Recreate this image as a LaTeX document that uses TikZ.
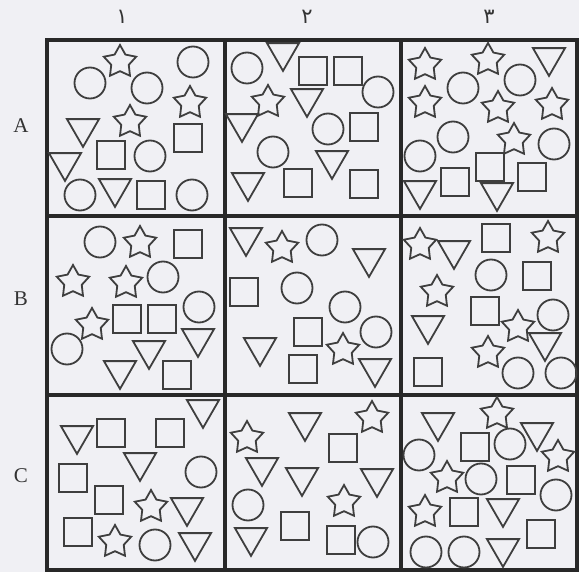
\documentclass[tikz,border=0pt]{standalone}
\usepackage{fontspec}
\setmainfont{Liberation Serif}
\newfontfamily\arabicfont[Script=Arabic]{DejaVu Sans}
\TeXXeTstate=1
\usetikzlibrary{shapes.geometric}
\definecolor{paper}{RGB}{240,240,244}
\definecolor{ink}{RGB}{62,62,62}
\definecolor{gridink}{RGB}{40,40,40}

\begin{document}
\begin{tikzpicture}[x=0.5pt, y=-0.5pt,
  shp/.style={draw=ink, line width=0.9pt, inner sep=0pt},
  circ/.style={shp, circle, minimum size=15.5pt},
  sqr/.style={shp, rectangle, minimum size=13.8pt},
  tri/.style={shp, regular polygon, regular polygon sides=3, shape border rotate=180, minimum size=18.5pt, yshift=2.3pt},
  pent/.style={shp, star, star points=5, star point ratio=1.85, minimum size=17pt},
  lbl/.style={font=\fontsize{10.5}{12}\selectfont, text=black!80}]
  \fill[paper] (0,0) rectangle (579,572);
  \useasboundingbox (0,0) rectangle (579,572);

  % headers
  \node[lbl] (col1) at (122,17) {\arabicfont\beginR ١\endR};
  \node[lbl] (col2) at (307,17) {\arabicfont\beginR ٢\endR};
  \node[lbl] (col3) at (489,17) {\arabicfont\beginR ٣\endR};
  \node[lbl] (rowA) at (21,126) {A};
  \node[lbl] (rowB) at (21,299) {B};
  \node[lbl] (rowC) at (21,476) {C};

  % grid
  \draw[gridink, line width=1.6pt] (47,40) rectangle (577,570);
  \draw[gridink, line width=1.6pt] (225,40) -- (225,570);
  \draw[gridink, line width=1.6pt] (401,40) -- (401,570);
  \draw[gridink, line width=1.6pt] (47,216) -- (577,216);
  \draw[gridink, line width=1.6pt] (47,395) -- (577,395);

  % circles
  \foreach \px/\py [count=\i] in {193/62, 90/83, 147/88, 150/156, 80/195, 192/195,
      247/68, 378/92, 328/129, 273/152,
      520/80, 463/88, 453/137, 554/144, 420/156,
      100/242, 163/277, 199/307, 67/349,
      322/240, 297/288, 345/307, 376/332,
      491/275, 553/315, 518/373, 561/373,
      201/472, 155/545, 248/505, 373/542,
      510/444, 419/455, 481/479, 556/495, 426/552, 464/552}
    \node[circ] (circ\i) at (\px,\py) {};

  % squares
  \foreach \px/\py [count=\i] in {188/138, 111/155, 151/195,
      313/71, 348/71, 364/127, 298/183, 364/184,
      490/167, 532/177, 455/182,
      188/244, 127/319, 162/319, 177/375,
      244/292, 308/332, 303/369,
      496/238, 537/276, 485/311, 428/372,
      111/433, 170/433, 73/478, 109/500, 78/532,
      343/448, 295/526, 341/540,
      475/447, 521/480, 464/512, 541/534}
    \node[sqr] (sqr\i) at (\px,\py) {};

  % triangles
  \foreach \px/\py [count=\i] in {83/133, 65/167, 115/193,
      283/57, 307/103, 242/128, 332/165, 248/187,
      549/62, 420/195, 497/197,
      198/343, 149/355, 120/375,
      246/242, 369/263, 260/352, 375/373,
      454/255, 428/330, 545/347,
      203/414, 77/440, 140/467, 187/512, 195/547,
      305/427, 262/472, 302/482, 377/483, 251/542,
      438/427, 537/437, 503/513, 503/553}
    \node[tri] (tri\i) at (\px,\py) {};

  % stars
  \foreach \px/\py [count=\i] in {120/62, 190/103, 130/122,
      268/102,
      425/65, 488/60, 425/103, 498/108, 552/105, 514/140,
      140/243, 73/282, 126/283, 92/325,
      282/248, 343/350,
      420/245, 548/238, 437/292, 518/327, 488/353,
      151/507, 115/542,
      372/418, 247/438, 344/502,
      497/414, 558/457, 447/478, 425/512}
    \node[pent] (pent\i) at (\px,\py) {};
\end{tikzpicture}
\end{document}
